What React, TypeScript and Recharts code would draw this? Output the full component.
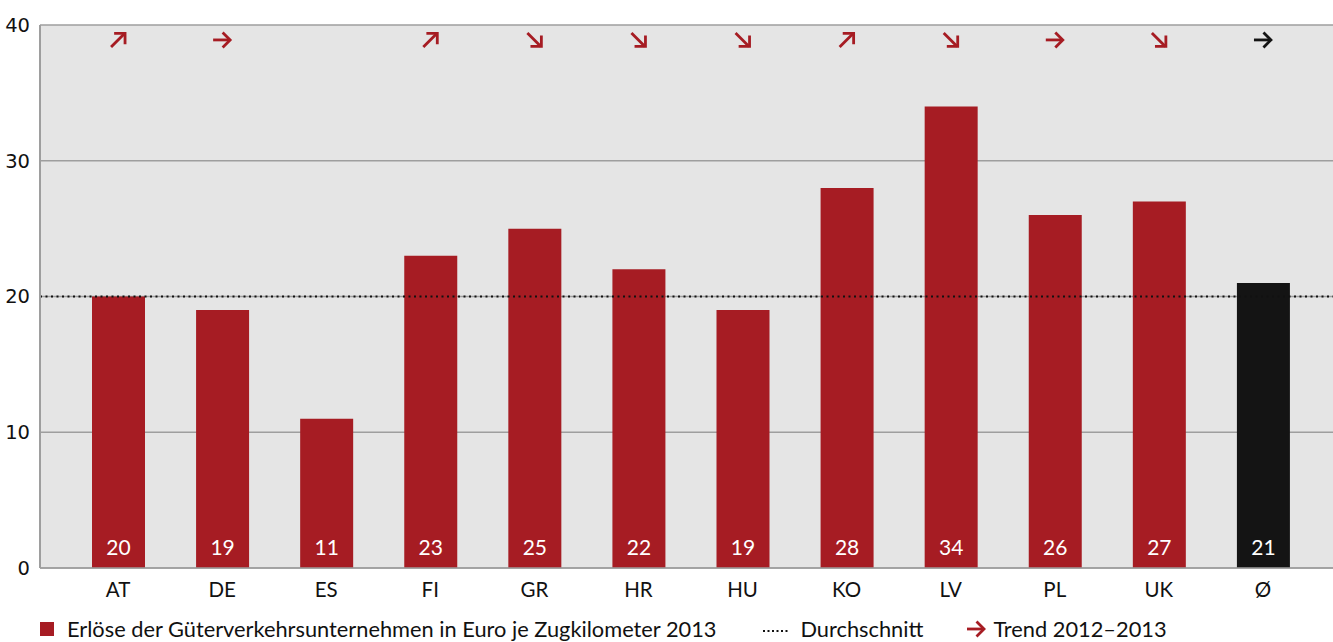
import React from "react";
import { ComposedChart, Bar, Line, XAxis, YAxis, CartesianGrid, ReferenceLine, LabelList, Legend, Cell } from "recharts";

const categories = ["AT", "DE", "ES", "FI", "GR", "HR", "HU", "KO", "LV", "PL", "UK", "Ø"];
const revenues = [20, 19, 11, 23, 25, 22, 19, 28, 34, 26, 27, 21];
const trends = ["up", "flat", "", "up", "down", "down", "down", "up", "down", "flat", "down", "flat"];
const averageLine = 20;
const arrowRow = 38.9;
const yTicks = [0, 10, 20, 30, 40];

const RED = "#a61c23";
const BLACK = "#141414";
const GRID = "#9e9e9e";
const BG = "#e5e5e5";
const CAT_FONT = "Lato, 'Open Sans', sans-serif";

const data = categories.map((c, i) => ({
  cat: c,
  value: revenues[i],
  trend: trends[i],
  arrowY: arrowRow,
}));

const Arrow = ({ cx, cy, dir, color }: any) => {
  if (!dir) return null;
  let shaft = "M-9,0 L8,0";
  let head = "M1.5,-6.5 L8,0 L1.5,6.5";
  if (dir === "up") {
    shaft = "M-7,7 L6.5,-6.5";
    head = "M-2.5,-6.5 L7,-6.5 L7,3";
  } else if (dir === "down") {
    shaft = "M-7,-7 L6.5,6.5";
    head = "M-2.5,6.5 L7,6.5 L7,-3";
  }
  return (
    <g transform={`translate(${cx},${cy})`}>
      <path d={shaft} stroke={color} strokeWidth={2.8} fill="none" />
      <path d={head} stroke={color} strokeWidth={2.8} fill="none" strokeLinejoin="miter" strokeLinecap="square" />
    </g>
  );
};

const ArrowDot = (props: any) => {
  const { cx, cy, payload, index } = props;
  const color = index === categories.length - 1 ? BLACK : RED;
  return <Arrow key={`a${index}`} cx={cx} cy={cy} dir={payload.trend} color={color} />;
};

const ValueLabel = (props: any) => {
  const { x, y, width, height, value } = props;
  return (
    <text
      x={x + width / 2}
      y={y + height - 22}
      fill="#ffffff"
      fontSize={21}
      fontFamily={CAT_FONT}
      textAnchor="middle"
      dominantBaseline="central"
    >
      {value}
    </text>
  );
};

const LegendContent = () => (
  <div
    style={{
      display: "flex",
      alignItems: "center",
      fontFamily: CAT_FONT,
      fontSize: 21.8,
      lineHeight: "20px",
      height: 20,
      color: "#111",
      paddingLeft: 40,
      paddingTop: 13,
      whiteSpace: "nowrap",
    }}
  >
    <span style={{ display: "inline-block", width: 14, height: 14, background: RED, marginRight: 13 }} />
    <span>Erlöse der Güterverkehrsunternehmen in Euro je Zugkilometer 2013</span>
    <svg width={26} height={10} style={{ marginLeft: 46, marginRight: 12 }}>
      <line x1={1} y1={7} x2={26} y2={7} stroke="#111" strokeWidth={2} strokeDasharray="2 2.5" />
    </svg>
    <span>Durchschnitt</span>
    <svg width={22} height={20} style={{ marginLeft: 42, marginRight: 6 }}>
      <Arrow cx={11} cy={10} dir="flat" color={RED} />
    </svg>
    <span>Trend 2012–2013</span>
  </div>
);

export default function App() {
  return (
    <div style={{ position: "absolute", left: 0, top: 0, width: 1333, height: 642, background: "#fff" }}>
      <ComposedChart
        width={1333}
        height={642}
        data={data}
        margin={{ top: 25, right: 0, bottom: 0, left: 0 }}
      >
        <CartesianGrid vertical={false} horizontal={true} stroke={GRID} strokeWidth={1.5} fill={BG} />
        <XAxis
          dataKey="cat"
          padding={{ left: 26, right: 18 }}
          axisLine={{ stroke: GRID, strokeWidth: 1.5 }}
          tickLine={false}
          tick={{ fill: "#111", fontSize: 20.5, fontFamily: CAT_FONT }}
          tickMargin={8}
          height={38}
          interval={0}
        />
        <YAxis
          domain={[0, 40]}
          ticks={yTicks}
          width={40}
          axisLine={{ stroke: GRID, strokeWidth: 2 }}
          tickLine={false}
          tickMargin={4}
          tick={{ fill: "#111", fontSize: 19.5, fontFamily: "'DejaVu Sans', sans-serif" }}
          interval={0}
        />
        <ReferenceLine y={averageLine} stroke="#111" strokeWidth={2} strokeDasharray="2 3.5" />
        <Bar dataKey="value" barSize={53} isAnimationActive={false}>
          {data.map((d, i) => (
            <Cell key={d.cat} fill={i === categories.length - 1 ? BLACK : RED} />
          ))}
          <LabelList dataKey="value" content={ValueLabel} />
        </Bar>
        <Line
          dataKey="arrowY"
          stroke="none"
          dot={ArrowDot}
          activeDot={false}
          isAnimationActive={false}
          legendType="none"
        />
        <Legend verticalAlign="bottom" height={36} content={LegendContent} />
      </ComposedChart>
    </div>
  );
}
